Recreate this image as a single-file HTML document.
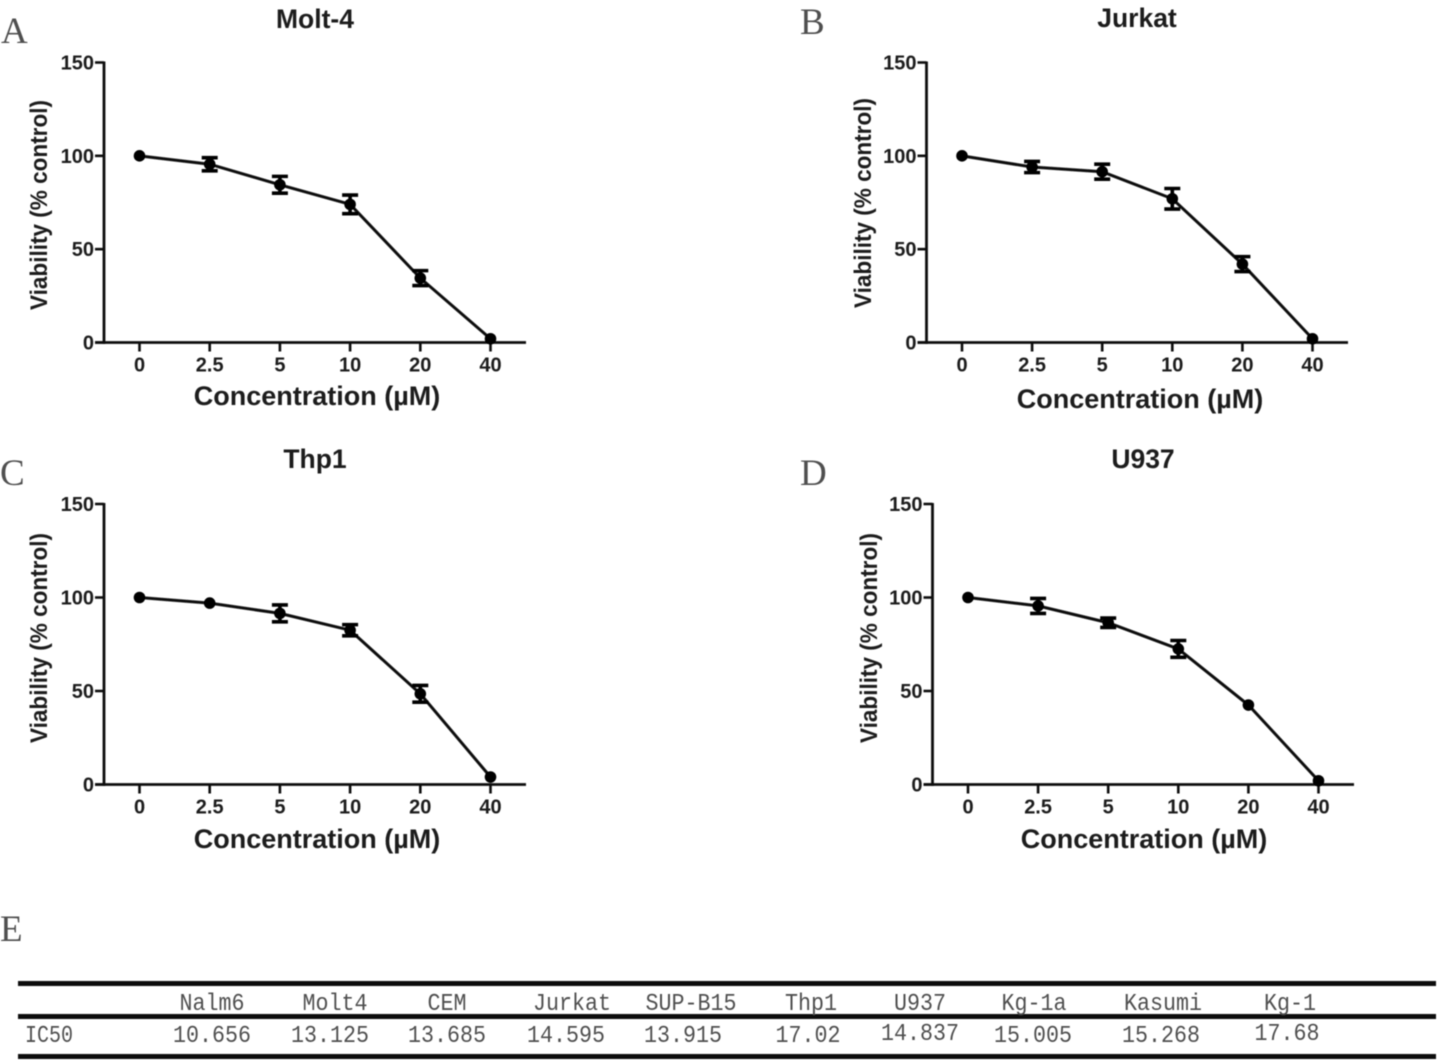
<!DOCTYPE html>
<html lang="en">
<head>
<meta charset="utf-8">
<title>Cell viability charts and IC50 table</title>
<style>
html,body{margin:0;padding:0;background:#fff;}
svg{display:block;}
.sans{font-family:"Liberation Sans",sans-serif;font-weight:bold;fill:#1c1c1c;}
.letter{font-family:"Liberation Serif",serif;font-size:37px;fill:#505050;}
.cell{font-family:"Liberation Mono",monospace;font-size:24px;fill:#505050;text-anchor:middle;}
</style>
</head>
<body>
<svg id="figure" xmlns="http://www.w3.org/2000/svg" width="1438" height="1061" viewBox="0 0 1438 1061">
  <defs>
    <filter id="soft" x="-5%" y="-5%" width="110%" height="110%"><feGaussianBlur stdDeviation="0.6"/></filter>
  </defs>
  <rect width="1438" height="1061" fill="#fff"/>
  <g id="charts" filter="url(#soft)"></g>
  <g filter="url(#soft)">
    <text class="letter" x="1" y="43">A</text>
    <text class="letter" x="800" y="34">B</text>
    <text class="letter" x="0" y="485">C</text>
    <text class="letter" x="800" y="485">D</text>
    <text class="letter" x="0" y="941">E</text>
  </g>
  <g filter="url(#soft)">
    <rect x="18" y="981" width="1418" height="5" fill="#0c0c0c"/>
    <rect x="18" y="1014" width="1418" height="5" fill="#0c0c0c"/>
    <rect x="18" y="1054" width="1418" height="5" fill="#0c0c0c"/>
    <text class="cell" x="212" y="1010" textLength="65" lengthAdjust="spacingAndGlyphs">Nalm6</text>
    <text class="cell" x="335" y="1010" textLength="65" lengthAdjust="spacingAndGlyphs">Molt4</text>
    <text class="cell" x="447" y="1010" textLength="39" lengthAdjust="spacingAndGlyphs">CEM</text>
    <text class="cell" x="572" y="1010" textLength="78" lengthAdjust="spacingAndGlyphs">Jurkat</text>
    <text class="cell" x="691" y="1010" textLength="91" lengthAdjust="spacingAndGlyphs">SUP-B15</text>
    <text class="cell" x="811" y="1010" textLength="52" lengthAdjust="spacingAndGlyphs">Thp1</text>
    <text class="cell" x="920" y="1010" textLength="52" lengthAdjust="spacingAndGlyphs">U937</text>
    <text class="cell" x="1034" y="1010" textLength="65" lengthAdjust="spacingAndGlyphs">Kg-1a</text>
    <text class="cell" x="1163" y="1010" textLength="78" lengthAdjust="spacingAndGlyphs">Kasumi</text>
    <text class="cell" x="1290" y="1010" textLength="52" lengthAdjust="spacingAndGlyphs">Kg-1</text>
    <text class="cell" x="49" y="1042" textLength="48" lengthAdjust="spacingAndGlyphs">IC50</text>
    <text class="cell" x="212" y="1042" textLength="78" lengthAdjust="spacingAndGlyphs">10.656</text>
    <text class="cell" x="330" y="1042" textLength="78" lengthAdjust="spacingAndGlyphs">13.125</text>
    <text class="cell" x="447" y="1042" textLength="78" lengthAdjust="spacingAndGlyphs">13.685</text>
    <text class="cell" x="566" y="1042" textLength="78" lengthAdjust="spacingAndGlyphs">14.595</text>
    <text class="cell" x="683" y="1042" textLength="78" lengthAdjust="spacingAndGlyphs">13.915</text>
    <text class="cell" x="808" y="1042" textLength="65" lengthAdjust="spacingAndGlyphs">17.02</text>
    <text class="cell" x="920" y="1040" textLength="78" lengthAdjust="spacingAndGlyphs">14.837</text>
    <text class="cell" x="1033" y="1042" textLength="78" lengthAdjust="spacingAndGlyphs">15.005</text>
    <text class="cell" x="1161" y="1042" textLength="78" lengthAdjust="spacingAndGlyphs">15.268</text>
    <text class="cell" x="1287" y="1040" textLength="65" lengthAdjust="spacingAndGlyphs">17.68</text>
  </g>
</svg>
<script>
const categories = ["0", "2.5", "5", "10", "20", "40"];
const yTicks = [0, 50, 100, 150];
const molt4Values = [100, 95.5, 84.5, 74, 34.5, 2];
const molt4Errors = [0, 3.5, 4.5, 5, 4, 0];
const jurkatValues = [100, 94, 91.5, 77, 42, 2];
const jurkatErrors = [0, 3, 4, 5.5, 4, 0];
const thp1Values = [100, 97, 91.5, 82.5, 48.5, 4];
const thp1Errors = [0, 0, 4.5, 3, 4.5, 0];
const u937Values = [100, 95.5, 86.5, 72.5, 42.5, 2];
const u937Errors = [0, 4, 2.5, 4.5, 0, 0];

const SVG_NS = "http://www.w3.org/2000/svg";
const INK = "#101010";
const chartsRoot = document.getElementById("charts");

function make(parent, tag, attrs, text) {
  const el = document.createElementNS(SVG_NS, tag);
  for (const k in attrs) el.setAttribute(k, attrs[k]);
  if (text !== undefined) el.textContent = text;
  parent.appendChild(el);
  return el;
}

function drawPanel(cfg) {
  const g = make(chartsRoot, "g", {});
  
  

  const yScale = v => cfg.y0 + (cfg.y150 - cfg.y0) * v / 150;
  const xScale = i => cfg.x0 + (cfg.x5 - cfg.x0) * i / (categories.length - 1);

  const title = make(g, "text", {class: "sans", x: cfg.titleX, y: cfg.titleY, "font-size": 26.5, "text-anchor": "middle"}, cfg.title);
  
  

  const yAxis = make(g, "line", {x1: cfg.axisX, x2: cfg.axisX, y1: cfg.y150 - 1, y2: cfg.y0 + 1.5, stroke: INK, "stroke-width": 2.8});
  
  

  const xAxis = make(g, "line", {x1: cfg.axisX - 9, x2: cfg.axisEnd, y1: cfg.y0, y2: cfg.y0, stroke: INK, "stroke-width": 2.8});
  
  

  yTicks.forEach(t => {
    const tick = make(g, "line", {x1: cfg.axisX - 9, x2: cfg.axisX, y1: yScale(t), y2: yScale(t), stroke: INK, "stroke-width": 2.6});
    
    
    const label = make(g, "text", {class: "sans", x: cfg.axisX - 10, y: yScale(t) + 7, "font-size": 20, "text-anchor": "end"}, String(t));
    
    
  });

  categories.forEach((c, i) => {
    const tick = make(g, "line", {x1: xScale(i), x2: xScale(i), y1: cfg.y0, y2: cfg.y0 + 9, stroke: INK, "stroke-width": 2.6});
    
    
    const label = make(g, "text", {class: "sans", x: xScale(i), y: cfg.y0 + 29, "font-size": 20, "text-anchor": "middle"}, c);
    
    
  });

  const xTitle = make(g, "text", {class: "sans", x: cfg.xTitleX, y: cfg.xTitleY, "font-size": 27, "text-anchor": "middle"}, "Concentration (µM)");
  
  

  const yTitle = make(g, "text", {class: "sans", x: 0, y: 0, "font-size": 24, "text-anchor": "middle", textLength: 210, lengthAdjust: "spacingAndGlyphs", transform: "translate(" + cfg.yTitleX + "," + cfg.yTitleY + ") rotate(-90)"}, "Viability (% control)");
  
  

  const pts = cfg.values.map((v, i) => xScale(i) + "," + yScale(v)).join(" ");
  const line = make(g, "polyline", {points: pts, fill: "none", stroke: INK, "stroke-width": 3});
  
  

  cfg.values.forEach((v, i) => {
    const x = xScale(i);
    const err = cfg.errors[i];
    if (err > 0) {
      const hi = yScale(v + err);
      const lo = yScale(v - err);
      const bar = make(g, "path", {
        d: "M" + (x - 8) + " " + hi + "H" + (x + 8) + "M" + (x - 8) + " " + lo + "H" + (x + 8) + "M" + x + " " + hi + "V" + lo,
        fill: "none", stroke: "#000", "stroke-width": 3.6
      });
      
      
    }
    const dot = make(g, "circle", {cx: x, cy: yScale(v), r: 5.8, fill: "#000"});
    
    
  });
}

drawPanel({key: "molt-4", title: "Molt-4", values: molt4Values, errors: molt4Errors,
  axisX: 104, axisEnd: 526, x0: 139.5, x5: 490.5, y0: 342.5, y150: 62.5,
  titleX: 315, titleY: 28, xTitleX: 317, xTitleY: 405, yTitleX: 47, yTitleY: 205});
drawPanel({key: "jurkat", title: "Jurkat", values: jurkatValues, errors: jurkatErrors,
  axisX: 926.5, axisEnd: 1348, x0: 962, x5: 1312.5, y0: 342.5, y150: 62.5,
  titleX: 1137, titleY: 27, xTitleX: 1140, xTitleY: 408, yTitleX: 871, yTitleY: 203});
drawPanel({key: "thp1", title: "Thp1", values: thp1Values, errors: thp1Errors,
  axisX: 104, axisEnd: 526, x0: 139.5, x5: 490.5, y0: 784.5, y150: 504,
  titleX: 315, titleY: 468, xTitleX: 317, xTitleY: 848, yTitleX: 47, yTitleY: 638});
drawPanel({key: "u937", title: "U937", values: u937Values, errors: u937Errors,
  axisX: 932.5, axisEnd: 1354, x0: 968, x5: 1318.5, y0: 784.5, y150: 504,
  titleX: 1143, titleY: 468, xTitleX: 1144, xTitleY: 848, yTitleX: 877, yTitleY: 638});
</script>
</body>
</html>
